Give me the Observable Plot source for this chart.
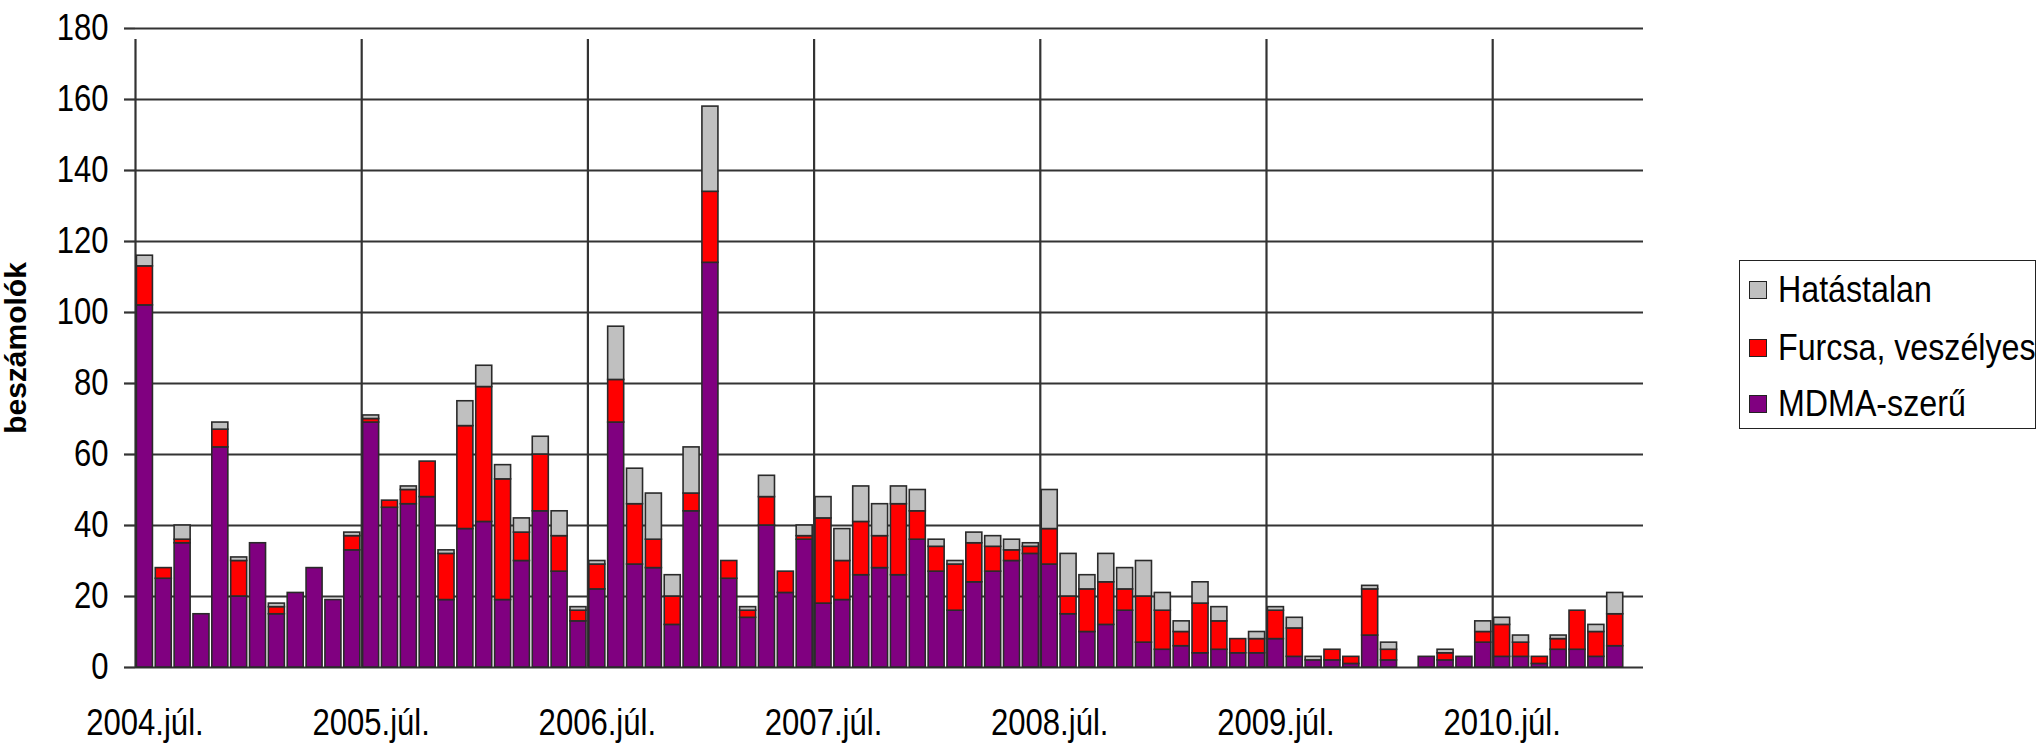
<!DOCTYPE html>
<html>
<head>
<meta charset="utf-8">
<script src="https://cdn.jsdelivr.net/npm/d3@7"></script>
<script src="https://cdn.jsdelivr.net/npm/@observablehq/plot@0.6"></script>
<style>
  body { margin: 0; background: #fff; font-family: "Liberation Sans", Arial, sans-serif; }
  #wrap { position: relative; width: 2040px; height: 743px; overflow: hidden; }
  #legend { position: absolute; left: 1739px; top: 260px; width: 297px; height: 169px;
            border: 1.8px solid #222; box-sizing: border-box; background: #fff; }
  .item { position: absolute; left: 9px; height: 40px; display: flex; align-items: center; }
  .sw { width: 18px; height: 18px; border: 1.3px solid #222; box-sizing: border-box; margin-right: 11px; flex: none; }
  .lab { font-size: 37px; transform: scaleX(0.87); transform-origin: left center; white-space: nowrap; color: #000; }
</style>
</head>
<body>
<div id="wrap"></div>
<script>
// ---- data ----
const startYear = 2004, startMonth = 7, monthCount = 80;
const months = [];
for (let i = 0; i < monthCount; i++) {
  const t = startMonth - 1 + i;
  months.push(`${startYear + Math.floor(t / 12)}-${String((t % 12) + 1).padStart(2, "0")}`);
}
const seriesNames = ["MDMA-szerű", "Furcsa, veszélyes", "Hatástalan"];
const seriesColors = ["#800080", "#ff0000", "#c0c0c0"];

const mdma = [102,25,35,15,62,20,35,15,21,28,19,33,
              69,45,46,48,19,39,41,19,30,44,27,13,
              22,69,29,28,12,44,114,25,14,40,21,36,
              18,19,26,28,26,36,27,16,24,27,30,32,
              29,15,10,12,16,7,5,6,4,5,4,4,
              8,3,2,2,1,9,2,0,3,2,3,7,
              3,3,1,5,5,3,6,0];
const furcsa = [11,3,1,0,5,10,0,2,0,0,0,4,
                1,2,4,10,13,29,38,34,8,16,10,3,
                7,12,17,8,8,5,20,5,2,8,6,1,
                24,11,15,9,20,8,7,13,11,7,3,2,
                10,5,12,12,6,13,11,4,14,8,4,4,
                8,8,0,3,2,13,3,0,0,2,0,3,
                9,4,2,3,11,7,9,0];
const hatastalan = [3,0,4,0,2,1,0,1,0,0,0,1,
                    1,0,1,0,1,7,6,4,4,5,7,1,
                    1,15,10,13,6,13,24,0,1,6,0,3,
                    6,9,10,9,5,6,2,1,3,3,3,1,
                    11,12,4,8,6,10,5,3,6,4,0,2,
                    1,3,1,0,0,1,2,0,0,1,0,3,
                    2,2,0,1,0,2,6,0];

const yTicks = [0, 20, 40, 60, 80, 100, 120, 140, 160, 180];
const xTickMonths = ["2004-07","2005-07","2006-07","2007-07","2008-07","2009-07","2010-07"];
const xTickLabels = ["2004.júl.","2005.júl.","2006.júl.","2007.júl.","2008.júl.","2009.júl.","2010.júl."];
const yTitle = "beszámolók";

// ---- build stacked table ----
const seriesValues = [mdma, furcsa, hatastalan];
const table = [];
months.forEach((m, i) => {
  seriesNames.forEach((s, k) => {
    const v = seriesValues[k][i];
    if (v > 0) table.push({month: m, series: s, value: v});
  });
});

const W = 2040, H = 743, mL = 135, mR = 2040 - 1643, mT = 28, mB = 743 - 667;
const step = (W - mL - mR) / months.length;
const font = '"Liberation Sans", Arial, sans-serif';
const gridColor = "#333333";

const chart = Plot.plot({
  width: W, height: H,
  marginLeft: mL, marginRight: mR, marginTop: mT, marginBottom: mB,
  style: {fontFamily: font, fontSize: "37px", background: "transparent", color: "#000", overflow: "visible"},
  x: {type: "band", domain: months, paddingInner: 0.15, paddingOuter: 0.075, axis: null},
  y: {domain: [0, 180], axis: null},
  color: {domain: seriesNames, range: seriesColors},
  marks: [
    Plot.ruleY(yTicks, {stroke: gridColor, strokeWidth: 2.2}),
    Plot.ruleX(xTickMonths, {x: d => d, dx: -step / 2, y1: 0, y2: 180, insetBottom: -11, stroke: gridColor, strokeWidth: 2.2}),
    Plot.barY(table, {x: "month", y: "value", fill: "series", stroke: "#2a2a2a", strokeWidth: 1.6}),
    Plot.axisY({ticks: yTicks, tickSize: 11, tickPadding: 16, label: null, fontSize: 37, stroke: gridColor, strokeWidth: 2.2}),
    Plot.axisX({ticks: xTickMonths, tickFormat: d => xTickLabels[xTickMonths.indexOf(d)], tickSize: 0, tickPadding: 41, label: null, fontSize: 37}),
    Plot.text([yTitle], {frameAnchor: "left", dx: -119, rotate: -90, textAnchor: "middle", fontWeight: "bold", fontSize: 30, text: d => d})
  ]
});

// condense tick label glyphs horizontally, like the reference
chart.querySelectorAll('g[aria-label="x-axis tick label"] text, g[aria-label="y-axis tick label"] text').forEach(t => {
  const tr = t.getAttribute("transform");
  if (tr) t.setAttribute("transform", tr + " scale(0.84,1)");
  else {
    const x = +t.getAttribute("x") || 0, y = +t.getAttribute("y") || 0;
    t.removeAttribute("x"); t.removeAttribute("y");
    t.setAttribute("transform", `translate(${x},${y}) scale(0.84,1)`);
  }
});

const wrap = document.getElementById("wrap");
wrap.appendChild(chart);

// legend (top-to-bottom like the reference)
const legend = document.createElement("div");
legend.id = "legend";
const order = [2, 1, 0];
const centers = [29, 87, 143];
order.forEach((k, j) => {
  const it = document.createElement("div");
  it.className = "item";
  it.style.top = (centers[j] - 20) + "px";
  const sw = document.createElement("div");
  sw.className = "sw";
  sw.style.background = seriesColors[k];
  const lab = document.createElement("div");
  lab.className = "lab";
  lab.textContent = seriesNames[k];
  it.appendChild(sw); it.appendChild(lab);
  legend.appendChild(it);
});
wrap.appendChild(legend);
</script>
</body>
</html>
